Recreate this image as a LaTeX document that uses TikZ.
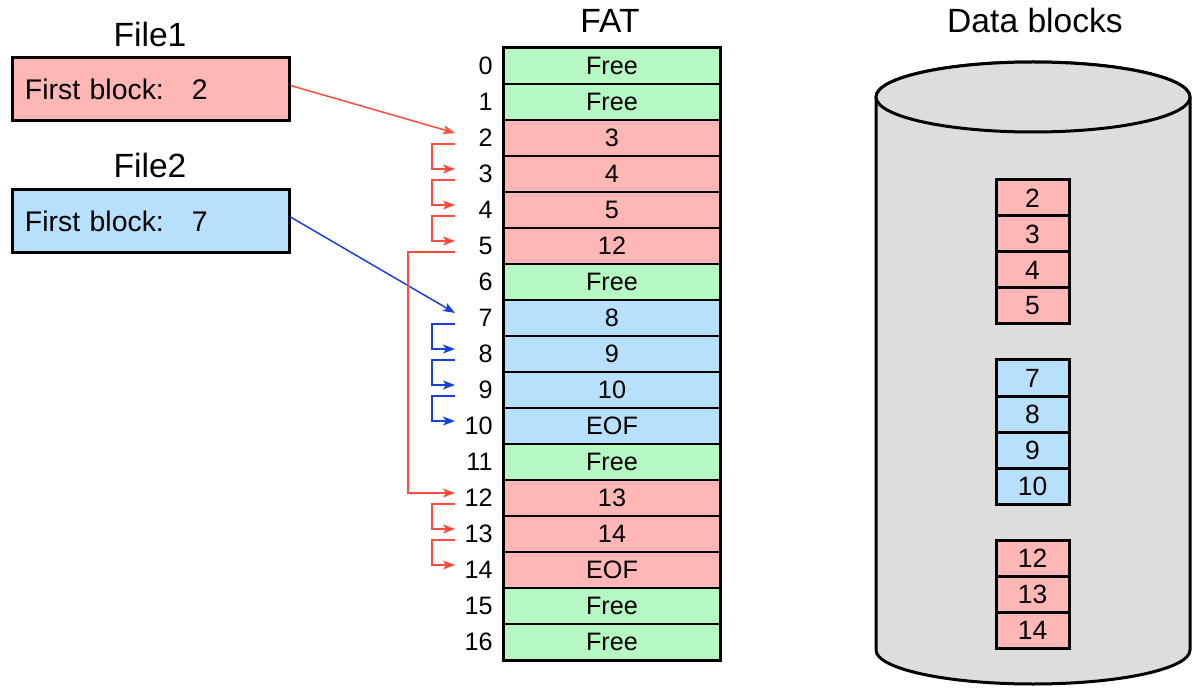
\documentclass[tikz,border=0pt]{standalone}
\usepackage{fontspec}
\setmainfont{Liberation Sans}
\usetikzlibrary{arrows.meta,calc}
\definecolor{redf}{HTML}{FFB7B6}
\definecolor{greenf}{HTML}{B6F8C3}
\definecolor{bluef}{HTML}{B7E0FD}
\definecolor{redl}{HTML}{FF4A3D}
\definecolor{bluel}{HTML}{1B40D6}
\definecolor{cylf}{HTML}{DDDDDD}
\begin{document}
\begin{tikzpicture}[x=0.5pt,y=-0.5pt,
  title/.style={font=\fontsize{16.8}{20}\selectfont, inner sep=0pt},
  filebox/.style={draw, line width=1.5pt, minimum height=31.5pt, text width=125.5pt, inner xsep=6.5pt, align=left, font=\fontsize{14.2}{16}\selectfont},
  fatcell/.style={draw, line width=0.75pt, minimum width=108pt, minimum height=18pt, inner sep=0pt, font=\fontsize{12.6}{14}\selectfont},
  rownum/.style={anchor=east, inner sep=0pt, font=\fontsize{12.6}{14}\selectfont},
  dblock/.style={draw, line width=1.5pt, minimum width=36.5pt, minimum height=18pt, inner sep=0pt, font=\fontsize{13.2}{15}\selectfont},
  ptr/.style={line width=0.75pt, -{Stealth[length=6pt,width=4.5pt,inset=1.5pt]}},
  redarrow/.style={ptr, draw=redl},
  bluearrow/.style={ptr, draw=bluel}]
\useasboundingbox (0,0) rectangle (1200,700);

% titles
\node[title] (t1) at (150,34) {File1};
\node[title] (t2) at (150,165) {File2};
\node[title] (tf) at (610,21) {FAT};
\node[title] (td) at (1035,20) {Data blocks};

% file boxes
\node[filebox, fill=redf] (f1) at (150.5,89.5) {First block:\hspace{14pt}2};
\node[filebox, fill=bluef] (f2) at (150.5,221) {First block:\hspace{14pt}7};

% FAT
\foreach \i/\v/\c in {0/Free/greenf,1/Free/greenf,2/3/redf,3/4/redf,4/5/redf,5/12/redf,6/Free/greenf,7/8/bluef,8/9/bluef,9/10/bluef,10/EOF/bluef,11/Free/greenf,12/13/redf,13/14/redf,14/EOF/redf,15/Free/greenf,16/Free/greenf}{
  \node[fatcell, fill=\c] (c\i) at (612,{66+36*\i}) {\v};
  \node[rownum] (n\i) at (493,{66+36*\i}) {\i};
  \coordinate (o\i) at (455,{72+36*\i});
  \coordinate (i\i) at (455,{61+36*\i});
}
\draw[line width=1.5pt] (c0.north west) rectangle (c16.south east);

% pointers
\draw[redarrow] ([yshift=2pt]f1.east) -- (i2);
\draw[bluearrow] ([yshift=2pt]f2.east) -- (i7);
\foreach \a/\b in {2/3,3/4,4/5,12/13,13/14}{
  \draw[redarrow] (o\a) -- ++(-23,0) |- (i\b);
}
\foreach \a/\b in {7/8,8/9,9/10}{
  \draw[bluearrow] (o\a) -- ++(-23,0) |- (i\b);
}
\draw[redarrow] (o5) -- ++(-47,0) |- (i12);

% cylinder
\draw[line width=1.5pt, fill=cylf] (876,97) -- (876,650)
  arc[start angle=180, end angle=360, x radius=78.5pt, y radius=17pt]
  -- (1190,97)
  arc[start angle=0, end angle=180, x radius=78.5pt, y radius=17.5pt] -- cycle;
\draw[line width=1.5pt, fill=cylf] (1033,97) ellipse[x radius=78.5pt, y radius=17.5pt];

% data blocks
\foreach \v/\y/\c in {2/198/redf,3/234/redf,4/270/redf,5/306/redf,7/378/bluef,8/414/bluef,9/450/bluef,10/486/bluef,12/558/redf,13/594/redf,14/630/redf}{
  \node[dblock, fill=\c] (d\v) at (1032.5,\y) {\v};
}
\end{tikzpicture}
\end{document}
